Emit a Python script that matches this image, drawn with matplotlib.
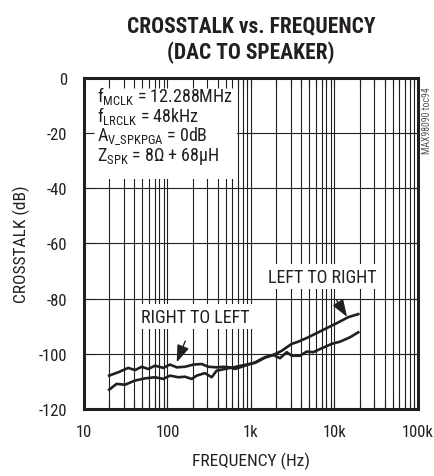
import matplotlib
matplotlib.use('Agg')
import matplotlib.pyplot as plt
from matplotlib.patches import Rectangle

# ------------------------------------------------------------
# Data (Hz, dB)
# ------------------------------------------------------------
rtl_freq = [20, 25.7, 33.9, 40.8, 49.1, 58.9, 70.8, 89.1, 107, 129, 162, 204, 257, 308,
            388, 466, 561, 643, 847, 1117, 1472, 1849, 2224, 2679, 3070, 3864, 4645,
            5572, 7031, 9250, 11640, 15340, 19270]
rtl_db = [-107.9, -106.7, -105.1, -105.9, -104.7, -105.5, -104.3, -105.1, -103.9, -104.9,
          -104.7, -103.9, -103.7, -104.7, -104.9, -104.7, -104.9, -105.5, -104.3, -103.1,
          -101.2, -100.4, -101.6, -99.4, -100.7, -100.7, -99.2, -99.4, -98.0, -96.4,
          -95.6, -94.0, -92.2]

ltr_freq = [20, 24.6, 31.0, 40.8, 53.8, 70.8, 89.1, 107, 135, 162, 195, 224, 281, 338,
            388, 488, 614, 847, 1117, 1472, 1849, 2333, 3070, 3684, 4856, 6397, 8433,
            11110, 14630, 19270]
ltr_db = [-113.0, -110.9, -111.2, -109.7, -108.9, -108.5, -109.1, -107.9, -108.5, -108.3,
          -109.1, -107.9, -107.0, -108.5, -106.1, -105.5, -104.9, -104.0, -103.3, -101.4,
          -100.4, -98.9, -96.4, -95.6, -94.0, -92.2, -90.4, -88.6, -86.7, -85.6]

x_ticks = [10, 100, 1000, 10000, 100000]
x_tick_labels = ['10', '100', '1k', '10k', '100k']
y_ticks = [0, -20, -40, -60, -80, -100, -120]
y_tick_labels = ['0', '-20', '-40', '-60', '-80', '-100', '-120']

INK = '#231f20'
FONT = 'Roboto Condensed'
plt.rcParams['font.family'] = [FONT, 'Archivo Narrow', 'Liberation Sans', 'DejaVu Sans']
plt.rcParams['mathtext.fontset'] = 'custom'
plt.rcParams['mathtext.rm'] = FONT
plt.rcParams['mathtext.it'] = FONT

fig = plt.figure(figsize=(4.35, 4.77), dpi=100)
ax = fig.add_axes([0.1931, 0.1405, 0.7678, 0.6939])
ax.set_xscale('log')
ax.set_xlim(10, 100000)
ax.set_ylim(-120, 0)

# grid drawn by hand so the white label boxes can sit on top of it
for e in range(1, 5):
    for m in range(1, 10):
        ax.axvline(m * 10 ** e, color=INK, lw=0.8, zorder=1)
for yv in y_ticks[1:-1]:
    ax.axhline(yv, color=INK, lw=0.8, zorder=1)

ax.plot(rtl_freq, rtl_db, color=INK, lw=1.9, zorder=4, solid_joinstyle='round')
ax.plot(ltr_freq, ltr_db, color=INK, lw=1.9, zorder=4, solid_joinstyle='round')

ax.set_axisbelow(False)
ax.set_xticks(x_ticks)
ax.set_xticklabels(x_tick_labels)
ax.set_yticks(y_ticks)
ax.set_yticklabels(y_tick_labels)
ax.xaxis.set_minor_locator(matplotlib.ticker.LogLocator(base=10, subs=range(2, 10)))
ax.xaxis.set_minor_formatter(matplotlib.ticker.NullFormatter())
ax.tick_params(which='both', direction='in', top=True, right=True, colors=INK,
               labelsize=12, width=0.8, length=7)
ax.tick_params(axis='x', pad=11)
ax.tick_params(axis='y', pad=12)
for s in ax.spines.values():
    s.set_linewidth(2.2)
    s.set_color(INK)
    s.set_zorder(6)

ax.set_xlabel('FREQUENCY (Hz)', fontsize=12.5, color=INK, labelpad=9)
ax.set_ylabel('CROSSTALK (dB)', fontsize=12.5, color=INK, labelpad=6)

fig.text(0.577, 0.917, 'CROSSTALK vs. FREQUENCY\n(DAC TO SPEAKER)', ha='center', va='center',
         fontsize=15.5, fontweight='black', color=INK, linespacing=1.2)

# condition box (white, hides the grid)
ax.add_patch(Rectangle((0, 0.695), 0.458, 0.305, transform=ax.transAxes,
                       facecolor='white', edgecolor='none', zorder=2))
cond_lines = [r'$\mathrm{f_{MCLK}}$ = 12.288MHz',
              r'$\mathrm{f_{LRCLK}}$ = 48kHz',
              r'$\mathrm{A_{V\_SPKPGA}}$ = 0dB',
              r'$\mathrm{Z_{SPK}}$ = 8Ω + 68μH']
for i, s in enumerate(cond_lines):
    ax.text(0.039, 0.949 - i * 0.061, s, transform=ax.transAxes, fontsize=13,
            color=INK, va='center', ha='left', zorder=3)

# curve labels with arrows
box = dict(boxstyle='square,pad=0.2', facecolor='white', edgecolor='none')
arrow = dict(arrowstyle='-|>,head_length=0.7,head_width=0.25', color=INK, lw=1.0,
             mutation_scale=15, shrinkA=9, shrinkB=0)
ax.annotate('RIGHT TO LEFT', xy=(129, -103.1), xytext=(213, -86.6), fontsize=13,
            color=INK, ha='center', va='center', bbox=box, zorder=3, arrowprops=arrow)
ax.annotate('LEFT TO RIGHT', xy=(14130, -86.6), xytext=(7080, -72.1), fontsize=13,
            color=INK, ha='center', va='center', bbox=box, zorder=3, arrowprops=arrow)

fig.text(0.982, 0.748, 'MAX98090 toc94', rotation=90, ha='center', va='center',
         fontsize=7, color='#555555')

fig.savefig('out.png', dpi=100)
